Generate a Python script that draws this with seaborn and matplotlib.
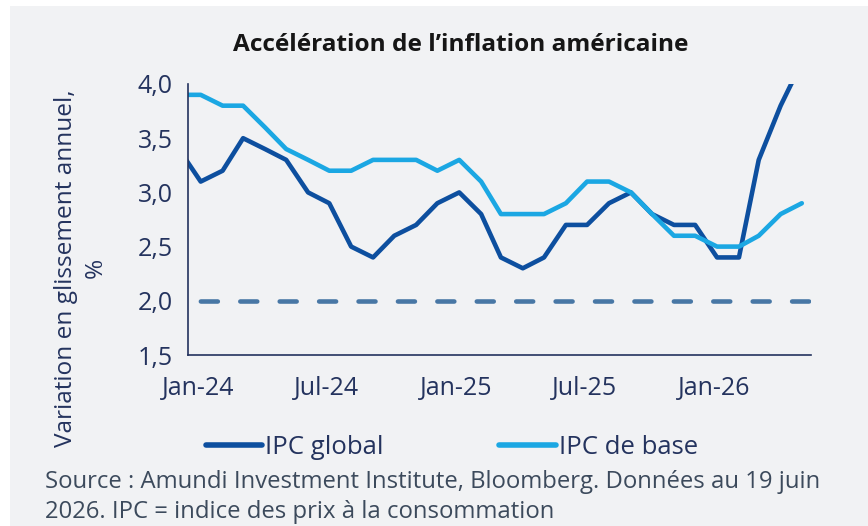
import matplotlib
matplotlib.use("Agg")
import matplotlib.pyplot as plt
import matplotlib.dates as mdates
import matplotlib.transforms as mtransforms
from matplotlib.patches import Rectangle
from matplotlib.ticker import FuncFormatter
import seaborn as sns
import pandas as pd
import numpy as np

# ---- data ----
months = pd.date_range("2023-12-01", "2026-05-01", freq="MS")
ipc_global = [3.4, 3.1, 3.2, 3.5, 3.4, 3.3, 3.0, 2.9, 2.5, 2.4, 2.6, 2.7, 2.9,
              3.0, 2.8, 2.4, 2.3, 2.4, 2.7, 2.7, 2.9, 3.0, 2.8, 2.7, 2.7,
              2.4, 2.4, 3.3, 3.8, 4.2]
ipc_base = [3.9, 3.9, 3.8, 3.8, 3.6, 3.4, 3.3, 3.2, 3.2, 3.3, 3.3, 3.3, 3.2,
            3.3, 3.1, 2.8, 2.8, 2.8, 2.9, 3.1, 3.1, 3.0, 2.8, 2.6, 2.6,
            2.5, 2.5, 2.6, 2.8, 2.9]
series_names = ["IPC global", "IPC de base"]
target = 2.0
y_ticks = [1.5, 2.0, 2.5, 3.0, 3.5, 4.0]
x_tick_dates = pd.to_datetime(["2024-01-01", "2024-07-01", "2025-01-01",
                               "2025-07-01", "2026-01-01"])
title = "Accélération de l’inflation américaine"
ylabel = "Variation en glissement annuel,\n%"
source = ("Source : Amundi Investment Institute, Bloomberg. Données au 19 juin\n"
          "2026. IPC = indice des prix à la consommation")

# observations are dated a little after the start of each month
obs_dates = months + pd.Timedelta(days=18)
df = pd.DataFrame({
    "date": list(obs_dates) * 2,
    "value": ipc_global + ipc_base,
    "serie": [series_names[0]] * len(ipc_global) + [series_names[1]] * len(ipc_base),
})

# ---- style ----
sns.set_style("white")
BG = "#f1f2f4"
NAVY = "#24335e"
plt.rcParams["font.family"] = ["Open Sans", "DejaVu Sans"]

palette = {series_names[0]: "#0d4f9f", series_names[1]: "#1ba7e3"}

fig = plt.figure(figsize=(8.68, 5.26), dpi=100, facecolor="white")
fig.patches.append(Rectangle((10 / 868, 0), 1, 1 - 6 / 526, transform=fig.transFigure,
                             facecolor=BG, edgecolor="none", zorder=-10))
ax = fig.add_axes([188 / 868, 1 - 355 / 526, (811 - 188) / 868, (355 - 84) / 526])
ax.set_facecolor(BG)

sns.lineplot(data=df, x="date", y="value", hue="serie", palette=palette,
             hue_order=series_names, linewidth=3.3, ax=ax, legend=True)

ax.axhline(target, color="#4877a5", linewidth=3.3, dash_capstyle="round",
           linestyle=(5.9, (3.7, 4.9)), zorder=1)

ax.set_xlim(pd.Timestamp("2024-01-01"), pd.Timestamp("2026-06-01"))
ax.set_ylim(1.5, 4.0)
ax.set_yticks(y_ticks)
ax.yaxis.set_major_formatter(FuncFormatter(lambda v, p: f"{v:.1f}".replace(".", ",")))
ax.set_xticks(x_tick_dates)
ax.xaxis.set_major_formatter(mdates.DateFormatter("%b-%y"))
ax.set_xlabel("")
ax.set_ylabel("")

for s in ["top", "right"]:
    ax.spines[s].set_visible(False)
for s in ["left", "bottom"]:
    ax.spines[s].set_color(NAVY)
    ax.spines[s].set_linewidth(1.2)
ax.tick_params(axis="both", which="major", direction="out", length=6, width=1.2,
               color=NAVY, labelcolor=NAVY, labelsize=18, pad=5)
ax.tick_params(axis="x", pad=9)
shift = mtransforms.ScaledTranslation(10 / 100, 0, fig.dpi_scale_trans)
for lbl in ax.get_xticklabels():
    lbl.set_transform(lbl.get_transform() + shift)

handles, labels = ax.get_legend_handles_labels()
ax.get_legend().remove()
leg = fig.legend(handles, labels, loc="center", bbox_to_anchor=(452 / 868, 1 - 447 / 526),
                 ncol=2, frameon=False, fontsize=18.5, handlelength=2.2,
                 handletextpad=0.12, columnspacing=4.5)
for h in leg.legend_handles:
    h.set_linewidth(4)
for t in leg.get_texts():
    t.set_color(NAVY)

fig.text(461 / 868, 1 - 45 / 526, title, ha="center", va="center",
         fontsize=17.6, fontweight="bold", color="#161616")
fig.text(81 / 868, 1 - 268 / 526, ylabel, ha="center", va="center", rotation=90,
         multialignment="center", fontsize=17.6, color=NAVY, linespacing=1.3)
fig.text(45 / 868, 1 - 497 / 526, source, ha="left", va="center",
         fontsize=17.2, color="#3c4a5c", linespacing=1.3)

fig.savefig("out.png", dpi=100, facecolor=fig.get_facecolor())
